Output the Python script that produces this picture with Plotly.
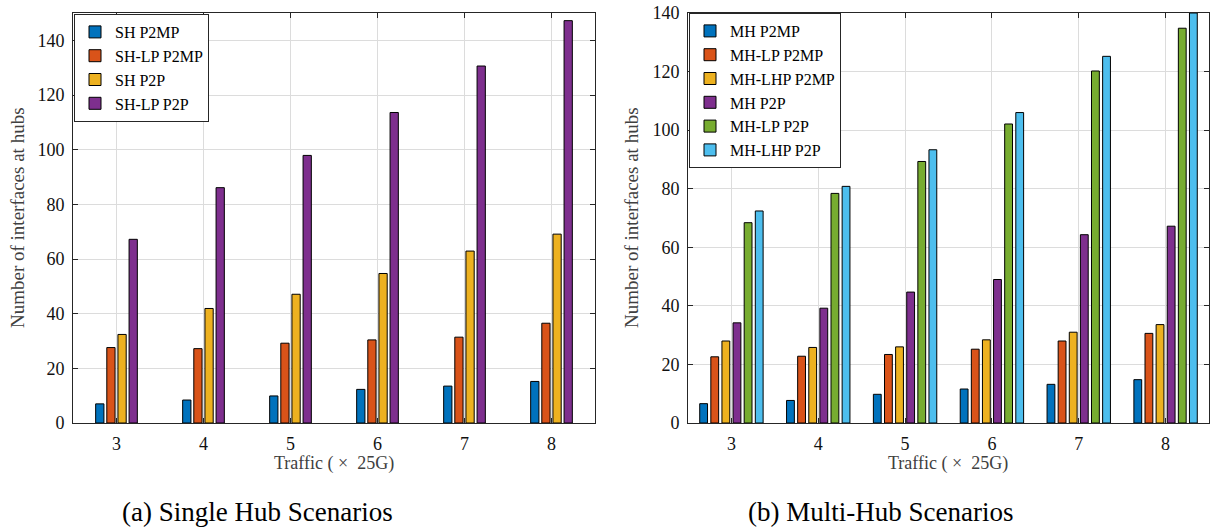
import plotly.graph_objects as go

# Traffic levels (x 25G)
traffic = [3, 4, 5, 6, 7, 8]

# Single hub scenarios
sh_p2mp = [7.0, 8.4, 9.9, 12.3, 13.5, 15.2]
sh_lp_p2mp = [27.6, 27.2, 29.2, 30.4, 31.4, 36.5]
sh_p2p = [32.4, 41.9, 47.1, 54.7, 62.9, 69.1]
sh_lp_p2p = [67.2, 86.1, 97.9, 113.6, 130.6, 147.2]

# Multi-hub scenarios
mh_p2mp = [6.6, 7.7, 9.8, 11.6, 13.2, 14.8]
mh_lp_p2mp = [22.6, 22.8, 23.4, 25.2, 28.0, 30.6]
mh_lhp_p2mp = [28.0, 25.8, 26.0, 28.4, 31.0, 33.6]
mh_p2p = [34.2, 39.2, 44.7, 49.0, 64.3, 67.2]
mh_lp_p2p = [68.4, 78.4, 89.3, 102.1, 120.2, 134.8]
mh_lhp_p2p = [72.4, 80.8, 93.3, 106.0, 125.2, 140.0]

colors = ["#0072BD", "#D95319", "#EDB120", "#7E2F8E", "#77AC30", "#4DBEEE"]

left_series = [
    ("SH P2MP", sh_p2mp),
    ("SH-LP P2MP", sh_lp_p2mp),
    ("SH P2P", sh_p2p),
    ("SH-LP P2P", sh_lp_p2p),
]
right_series = [
    ("MH P2MP", mh_p2mp),
    ("MH-LP P2MP", mh_lp_p2mp),
    ("MH-LHP P2MP", mh_lhp_p2mp),
    ("MH P2P", mh_p2p),
    ("MH-LP P2P", mh_lp_p2p),
    ("MH-LHP P2P", mh_lhp_p2p),
]

SERIF = "Liberation Serif, Times New Roman, serif"
AX = "#262626"
GRID = "#dcdcdc"

fig = go.Figure()

PITCH = 0.128


def add_group(series, xa, ya, legend, bar_w):
    n = len(series)
    for i, (name, vals) in enumerate(series):
        off = (i - n / 2) * PITCH + (PITCH - bar_w) / 2
        fig.add_trace(go.Bar(
            x=traffic, y=vals, name=name,
            xaxis=xa, yaxis=ya, legend=legend,
            width=bar_w, offset=off,
            marker=dict(color=colors[i], line=dict(color="#000000", width=1)),
        ))


add_group(left_series, "x", "y", "legend", 0.095)
add_group(right_series, "x2", "y2", "legend2", 0.09)

W, H = 1213, 528
L_dom = [73 / W, 595 / W]
R_dom = [688 / W, 1209 / W]
Y_dom = [(H - 423) / H, (H - 13) / H]

axis_common = dict(
    showline=True, mirror="ticks", linecolor=AX, linewidth=1,
    ticks="inside", ticklen=5, tickcolor=AX, tickwidth=1,
    showgrid=True, gridcolor=GRID, gridwidth=1, zeroline=False,
    automargin=False,
    tickfont=dict(family=SERIF, size=18, color="#111111"),
)

legend_common = dict(
    xanchor="left", yanchor="top",
    bgcolor="white", bordercolor=AX, borderwidth=1,
    font=dict(family=SERIF, size=16, color="#000000"),
    tracegroupgap=0, itemwidth=30,
)

fig.update_layout(
    template="none",
    width=W, height=H,
    margin=dict(l=0, r=0, t=0, b=0, pad=0),
    paper_bgcolor="white", plot_bgcolor="white",
    barmode="overlay",
    xaxis=dict(domain=L_dom, anchor="y", range=[2.5, 8.5], tickvals=traffic,
               ticklabelstandoff=4, **axis_common),
    yaxis=dict(domain=Y_dom, anchor="x", range=[0, 150], tickvals=list(range(0, 141, 20)),
               ticklabelstandoff=4, **axis_common),
    xaxis2=dict(domain=R_dom, anchor="y2", range=[2.5, 8.5], tickvals=traffic,
                ticklabelstandoff=4, **axis_common),
    yaxis2=dict(domain=Y_dom, anchor="x2", range=[0, 140], tickvals=list(range(0, 141, 20)),
                ticklabelstandoff=4, **axis_common),
    legend=dict(x=74 / W, y=(H - 14) / H, **legend_common),
    legend2=dict(x=689 / W, y=(H - 13) / H, **legend_common),
    showlegend=True,
)

texts = [
    # axis titles
    dict(text="Traffic ( \u00d7  25G)", x=334 / W, y=(H - 463) / H, size=18, color="#404040", angle=0),
    dict(text="Traffic ( \u00d7  25G)", x=948 / W, y=(H - 463) / H, size=18, color="#404040", angle=0),
    dict(text="Number of interfaces at hubs", x=18 / W, y=(H - 218) / H, size=19, color="#404040", angle=-90),
    dict(text="Number of interfaces at hubs", x=632 / W, y=(H - 218) / H, size=19, color="#404040", angle=-90),
    # panel captions
    dict(text="(a) Single Hub Scenarios", x=257 / W, y=(H - 512) / H, size=27, color="#000000", angle=0),
    dict(text="(b) Multi-Hub Scenarios", x=880 / W, y=(H - 512) / H, size=27, color="#000000", angle=0),
]
for t in texts:
    fig.add_annotation(
        text=t["text"], x=t["x"], y=t["y"], xref="paper", yref="paper",
        xanchor="center", yanchor="middle", showarrow=False, textangle=t["angle"],
        font=dict(family=SERIF, size=t["size"], color=t["color"]),
    )

fig.write_html("out.html")
